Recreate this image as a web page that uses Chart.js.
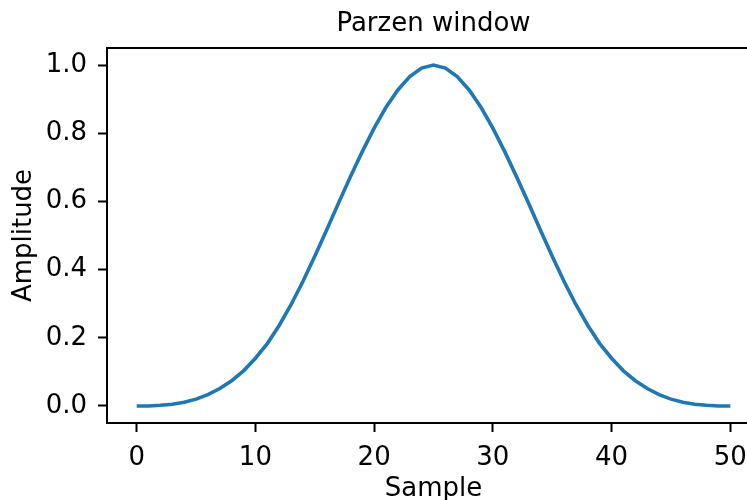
<!DOCTYPE html>
<html>
<head>
<meta charset="utf-8">
<script src="https://cdn.jsdelivr.net/npm/chart.js@4/dist/chart.umd.min.js"></script>
<style>
  html, body { margin: 0; padding: 0; background: #fff; overflow: hidden; }
  #wrap { width: 747px; height: 500px; overflow: hidden; }
</style>
</head>
<body>
<div id="wrap"><canvas id="c" width="770" height="500"></canvas></div>
<script>
// Parzen window, 51 points
const samples = [
    0, 1, 2, 3, 4, 5, 6, 7, 8, 9,
    10, 11, 12, 13, 14, 15, 16, 17, 18, 19,
    20, 21, 22, 23, 24, 25, 26, 27, 28, 29,
    30, 31, 32, 33, 34, 35, 36, 37, 38, 39,
    40, 41, 42, 43, 44, 45, 46, 47, 48, 49, 50,
];
const amplitude = [
    0.000, 0.000, 0.002, 0.005, 0.011, 0.020, 0.033, 0.051, 0.074, 0.103,
    0.140, 0.183, 0.236, 0.297, 0.365, 0.439, 0.516, 0.595, 0.672, 0.746,
    0.815, 0.876, 0.927, 0.966, 0.991, 1.000, 0.991, 0.966, 0.927, 0.876,
    0.815, 0.746, 0.672, 0.595, 0.516, 0.439, 0.365, 0.297, 0.236, 0.183,
    0.140, 0.103, 0.074, 0.051, 0.033, 0.020, 0.011, 0.005, 0.002, 0.000, 0.000,
];
const xTicks = [0, 10, 20, 30, 40, 50];
const yTicks = [0.0, 0.2, 0.4, 0.6, 0.8, 1.0];

const FONT = 'DejaVu Sans';
const fontSpec = { family: FONT, size: 26 };

// matplotlib draws a full frame; Chart.js only gives left/bottom borders
const topSpine = {
    id: 'topSpine',
    afterDraw(chart) {
        const { ctx, chartArea: a } = chart;
        ctx.save();
        ctx.strokeStyle = '#000';
        ctx.lineWidth = 2;
        ctx.beginPath();
        ctx.moveTo(a.left - 1, a.top);
        ctx.lineTo(a.right, a.top);
        ctx.moveTo(a.right, a.top);
        ctx.lineTo(a.right, a.bottom);
        ctx.stroke();
        ctx.restore();
    },
};

new Chart(document.getElementById('c'), {
    type: 'line',
    data: {
        datasets: [{
            data: samples.map((s, i) => ({ x: s, y: amplitude[i] })),
            borderColor: '#1f77b4',
            borderWidth: 3.6,
            pointRadius: 0,
            tension: 0,
            fill: false,
        }],
    },
    options: {
        responsive: false,
        animation: false,
        events: [],
        layout: { padding: { left: 0, right: 10, top: 0, bottom: 0 } },
        plugins: {
            legend: { display: false },
            tooltip: { enabled: false },
            title: {
                display: true,
                text: 'Parzen window',
                color: '#000',
                fullSize: false,
                font: { family: FONT, size: 26, weight: 'normal' },
                padding: { top: 8.4, bottom: 8.4 },
            },
        },
        scales: {
            x: {
                type: 'linear',
                min: -2.5,
                max: 52.5,
                afterBuildTicks: (s) => { s.ticks = xTicks.map((v) => ({ value: v })); },
                afterFit: (s) => { s.height = 77; },
                ticks: {
                    color: '#000',
                    font: fontSpec,
                    padding: 11,
                    maxRotation: 0,
                    callback: (v) => String(v),
                },
                grid: {
                    drawOnChartArea: false,
                    drawTicks: true,
                    tickLength: 9,
                    tickWidth: 2,
                    tickColor: '#000',
                },
                border: { display: true, color: '#000', width: 2 },
                title: {
                    display: true,
                    text: 'Sample',
                    color: '#000',
                    font: fontSpec,
                    padding: { top: 0, bottom: -4.6 },
                },
            },
            y: {
                min: -0.05,
                max: 1.05,
                afterBuildTicks: (s) => { s.ticks = yTicks.map((v) => ({ value: v })); },
                afterFit: (s) => { s.width = 107; },
                ticks: {
                    color: '#000',
                    font: fontSpec,
                    padding: 11,
                    callback: (v) => Number(v).toFixed(1),
                },
                grid: {
                    drawOnChartArea: false,
                    drawTicks: true,
                    tickLength: 9,
                    tickWidth: 2,
                    tickColor: '#000',
                },
                border: { display: true, color: '#000', width: 2 },
                title: {
                    display: true,
                    text: 'Amplitude',
                    color: '#000',
                    font: fontSpec,
                    padding: { top: 8.4, bottom: 0 },
                },
            },
        },
    },
    plugins: [topSpine],
});
</script>
</body>
</html>
